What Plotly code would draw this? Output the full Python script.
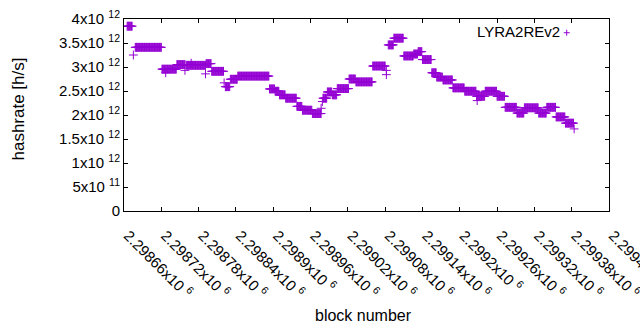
import numpy as np
import plotly.graph_objects as go

# Runs of constant hashrate: [start block, end block) and value (x10^12 h/s)
run_start = [2298665, 2298678, 2298721, 2298745, 2298760, 2298792, 2298801, 2298823,
             2298831, 2298843, 2298894, 2298903, 2298910, 2298920, 2298938, 2298947,
             2298963, 2298980, 2298987, 2298995, 2299003, 2299022, 2299033, 2299060,
             2299085, 2299094, 2299110, 2299126, 2299133, 2299140, 2299155, 2299163,
             2299173, 2299189, 2299208, 2299227, 2299241, 2299260, 2299273, 2299292,
             2299304, 2299327, 2299340, 2299355, 2299370]
run_end = [2298674, 2298721, 2298745, 2298759, 2298792, 2298801, 2298821, 2298831,
           2298843, 2298894, 2298903, 2298910, 2298920, 2298938, 2298947, 2298963,
           2298978, 2298987, 2298995, 2299003, 2299022, 2299033, 2299060, 2299081,
           2299094, 2299110, 2299126, 2299133, 2299140, 2299155, 2299163, 2299173,
           2299189, 2299208, 2299227, 2299241, 2299260, 2299273, 2299292, 2299304,
           2299327, 2299340, 2299355, 2299370, 2299384]
run_value = [3.85, 3.41, 2.955, 3.05, 3.035, 3.07, 2.91, 2.59,
             2.745, 2.81, 2.543, 2.495, 2.42, 2.35, 2.18, 2.10,
             2.03, 2.35, 2.48, 2.42, 2.55, 2.75, 2.69, 3.02,
             3.46, 3.60, 3.23, 3.27, 3.32, 3.155, 2.88, 2.79,
             2.73, 2.565, 2.495, 2.39, 2.495, 2.39, 2.16, 2.04,
             2.15, 2.04, 2.16, 1.96, 1.83]

# Isolated blocks
single_block = [2298675, 2298727, 2298758, 2298768, 2298791, 2298821, 2298977,
                2298979, 2299082, 2299082, 2299228, 2299384]
single_value = [3.25, 2.88, 2.93, 3.08, 2.857, 2.67, 2.14,
                2.28, 2.93, 2.84, 2.30, 1.71]

x_tickvals = [2298660, 2298720, 2298780, 2298840, 2298900, 2298960, 2299020,
              2299080, 2299140, 2299200, 2299260, 2299320, 2299380, 2299440]
x_ticktext = ["2.29866x10 <sup>6</sup>", "2.29872x10 <sup>6</sup>", "2.29878x10 <sup>6</sup>",
              "2.29884x10 <sup>6</sup>", "2.2989x10 <sup>6</sup>", "2.29896x10 <sup>6</sup>",
              "2.29902x10 <sup>6</sup>", "2.29908x10 <sup>6</sup>", "2.29914x10 <sup>6</sup>",
              "2.2992x10 <sup>6</sup>", "2.29926x10 <sup>6</sup>", "2.29932x10 <sup>6</sup>",
              "2.29938x10 <sup>6</sup>", "2.29944x10 <sup>6</sup>"]
y_tickvals = [0, 0.5e12, 1e12, 1.5e12, 2e12, 2.5e12, 3e12, 3.5e12, 4e12]
y_ticktext = ["0", "5x10 <sup>11</sup>", "1x10 <sup>12</sup>", "1.5x10 <sup>12</sup>",
              "2x10 <sup>12</sup>", "2.5x10 <sup>12</sup>", "3x10 <sup>12</sup>",
              "3.5x10 <sup>12</sup>", "4x10 <sup>12</sup>"]

blocks = []
rates = []
for s, e, v in zip(run_start, run_end, run_value):
    b = np.arange(s, e)
    blocks.extend(b.tolist())
    rates.extend([v * 1e12] * len(b))
blocks.extend(single_block)
rates.extend([v * 1e12 for v in single_value])

color = "#9400D3"
fig = go.Figure()
fig.add_trace(go.Scatter(
    x=blocks, y=rates, mode="markers", name="LYRA2REv2",
    marker=dict(symbol="cross-thin", size=6.3, color=color,
                line=dict(color=color, width=1)),
    showlegend=False,
))

font = "Liberation Sans, Arial, sans-serif"
axis_common = dict(showline=True, linecolor="black", linewidth=1, mirror="allticks",
                   ticks="inside", ticklen=4, tickcolor="black", showgrid=False,
                   zeroline=False, ticklabeloverflow="allow")
fig.update_xaxes(range=[2298660 - 0.05, 2299440 + 0.05], tickvals=x_tickvals, ticktext=x_ticktext,
                 tickangle=45, ticklabelstandoff=9, ticklabelshift=4,
                 tickfont=dict(family=font, size=15, color="black"), **axis_common)
fig.update_yaxes(range=[0, 4e12], tickvals=y_tickvals, ticktext=y_ticktext,
                 tickfont=dict(family=font, size=15, color="black"), **axis_common)

fig.update_layout(
    width=640, height=330,
    margin=dict(l=124, r=31, t=19, b=119, autoexpand=False),
    paper_bgcolor="white", plot_bgcolor="white",
    font=dict(family=font, size=14, color="black"),
    annotations=[
        dict(text="hashrate [h/s]", xref="paper", yref="paper", x=-0.218, y=0.53,
             textangle=-90, showarrow=False, font=dict(size=17), xanchor="center", yanchor="middle"),
        dict(text="block number", xref="paper", yref="paper", x=0.494, y=-0.545,
             showarrow=False, font=dict(size=16), xanchor="center", yanchor="middle"),
        dict(text="LYRA2REv2", xref="paper", yref="paper", x=0.9025, y=0.9337,
             showarrow=False, font=dict(size=15), xanchor="right", yanchor="middle"),
    ],
    shapes=[
        dict(type="line", xref="paper", yref="paper", x0=0.9067, x1=0.9191, y0=0.9284, y1=0.9284,
             line=dict(color=color, width=1)),
        dict(type="line", xref="paper", yref="paper", x0=0.9128, x1=0.9128, y0=0.9127, y1=0.9441,
             line=dict(color=color, width=1)),
    ],
)
fig.write_html("out.html")
